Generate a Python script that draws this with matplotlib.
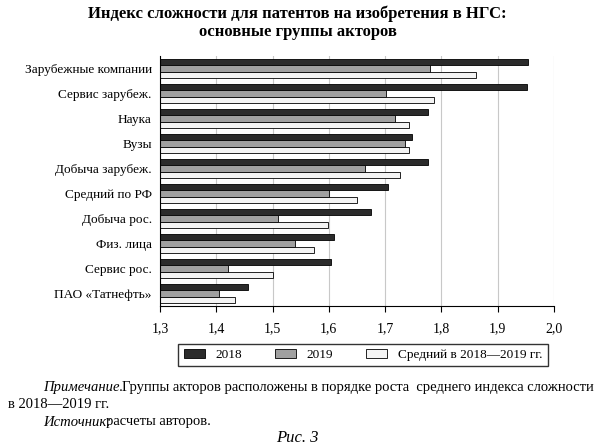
import matplotlib
matplotlib.use("Agg")
import matplotlib.pyplot as plt
import numpy as np

plt.rcParams['font.family'] = ['Liberation Serif', 'DejaVu Serif']

categories = ["Зарубежные компании", "Сервис зарубеж.", "Наука", "Вузы", "Добыча зарубеж.",
              "Средний по РФ", "Добыча рос.", "Физ. лица", "Сервис рос.", "ПАО «Татнефть»"]
v2018 = [1.954, 1.952, 1.777, 1.747, 1.776, 1.705, 1.675, 1.610, 1.603, 1.456]
v2019 = [1.779, 1.702, 1.717, 1.736, 1.664, 1.600, 1.510, 1.540, 1.421, 1.404]
vavg = [1.862, 1.787, 1.743, 1.742, 1.727, 1.650, 1.598, 1.573, 1.500, 1.434]
ticks = [1.3, 1.4, 1.5, 1.6, 1.7, 1.8, 1.9, 2.0]
tick_labels = ["1,3", "1,4", "1,5", "1,6", "1,7", "1,8", "1,9", "2,0"]

fig = plt.figure(figsize=(5.95, 4.47), dpi=100)
ax = fig.add_axes([160/595, 1-306/447, 394/595, 250/447])
y = np.arange(len(categories))
h = 0.25
base = 1.3
ax.barh(y - h, np.array(v2018) - base, h, left=base, color='#2b2b2b', edgecolor='black', lw=0.6, label='2018')
ax.barh(y, np.array(v2019) - base, h, left=base, color='#a0a0a0', edgecolor='black', lw=0.6, label='2019')
ax.barh(y + h, np.array(vavg) - base, h, left=base, color='#f4f4f4', edgecolor='black', lw=0.6, label='Средний в 2018—2019 гг.')
ax.set_ylim(len(categories) - 0.5, -0.5)
ax.set_xlim(1.3, 2.0)
ax.set_xticks(ticks)
ax.set_xticklabels(tick_labels, fontsize=10)
ax.set_yticks(y)
ax.set_yticklabels(categories, fontsize=9.5)
ax.tick_params(axis='y', length=0, pad=6)
ax.tick_params(axis='x', length=4, pad=8)
ax.grid(axis='x', color='#c8c8c8', lw=0.8)
ax.set_axisbelow(True)
for s in ['top', 'right']:
    ax.spines[s].set_visible(False)
fig.legend(loc='center', bbox_to_anchor=(363/595, 1-355/447), ncol=3, fontsize=9.5,
           frameon=True, fancybox=False, edgecolor='black', handlelength=1.6, columnspacing=2.5)
fig.text(0.5, 1-14/447, "Индекс сложности для патентов на изобретения в НГС:", ha='center', va='center',
         fontsize=12, fontweight='bold')
fig.text(0.5, 1-32/447, "основные группы акторов", ha='center', va='center', fontsize=12, fontweight='bold')
fig.text(43/595, 1-388/447, "Примечание.", style='italic', fontsize=10.5, va='center')
fig.text(122/595, 1-388/447, "Группы акторов расположены в порядке роста  среднего индекса сложности",
         fontsize=10.5, va='center')
fig.text(8/595, 1-405/447, "в 2018—2019 гг.", fontsize=10.5, va='center')
fig.text(43/595, 1-422/447, "Источник:", style='italic', fontsize=10.5, va='center')
fig.text(106/595, 1-422/447, "расчеты авторов.", fontsize=10.5, va='center')
fig.text(0.5, 1-438/447, "Рис. 3", style='italic', fontsize=12, ha='center', va='center')
fig.savefig("out.png", dpi=100)
